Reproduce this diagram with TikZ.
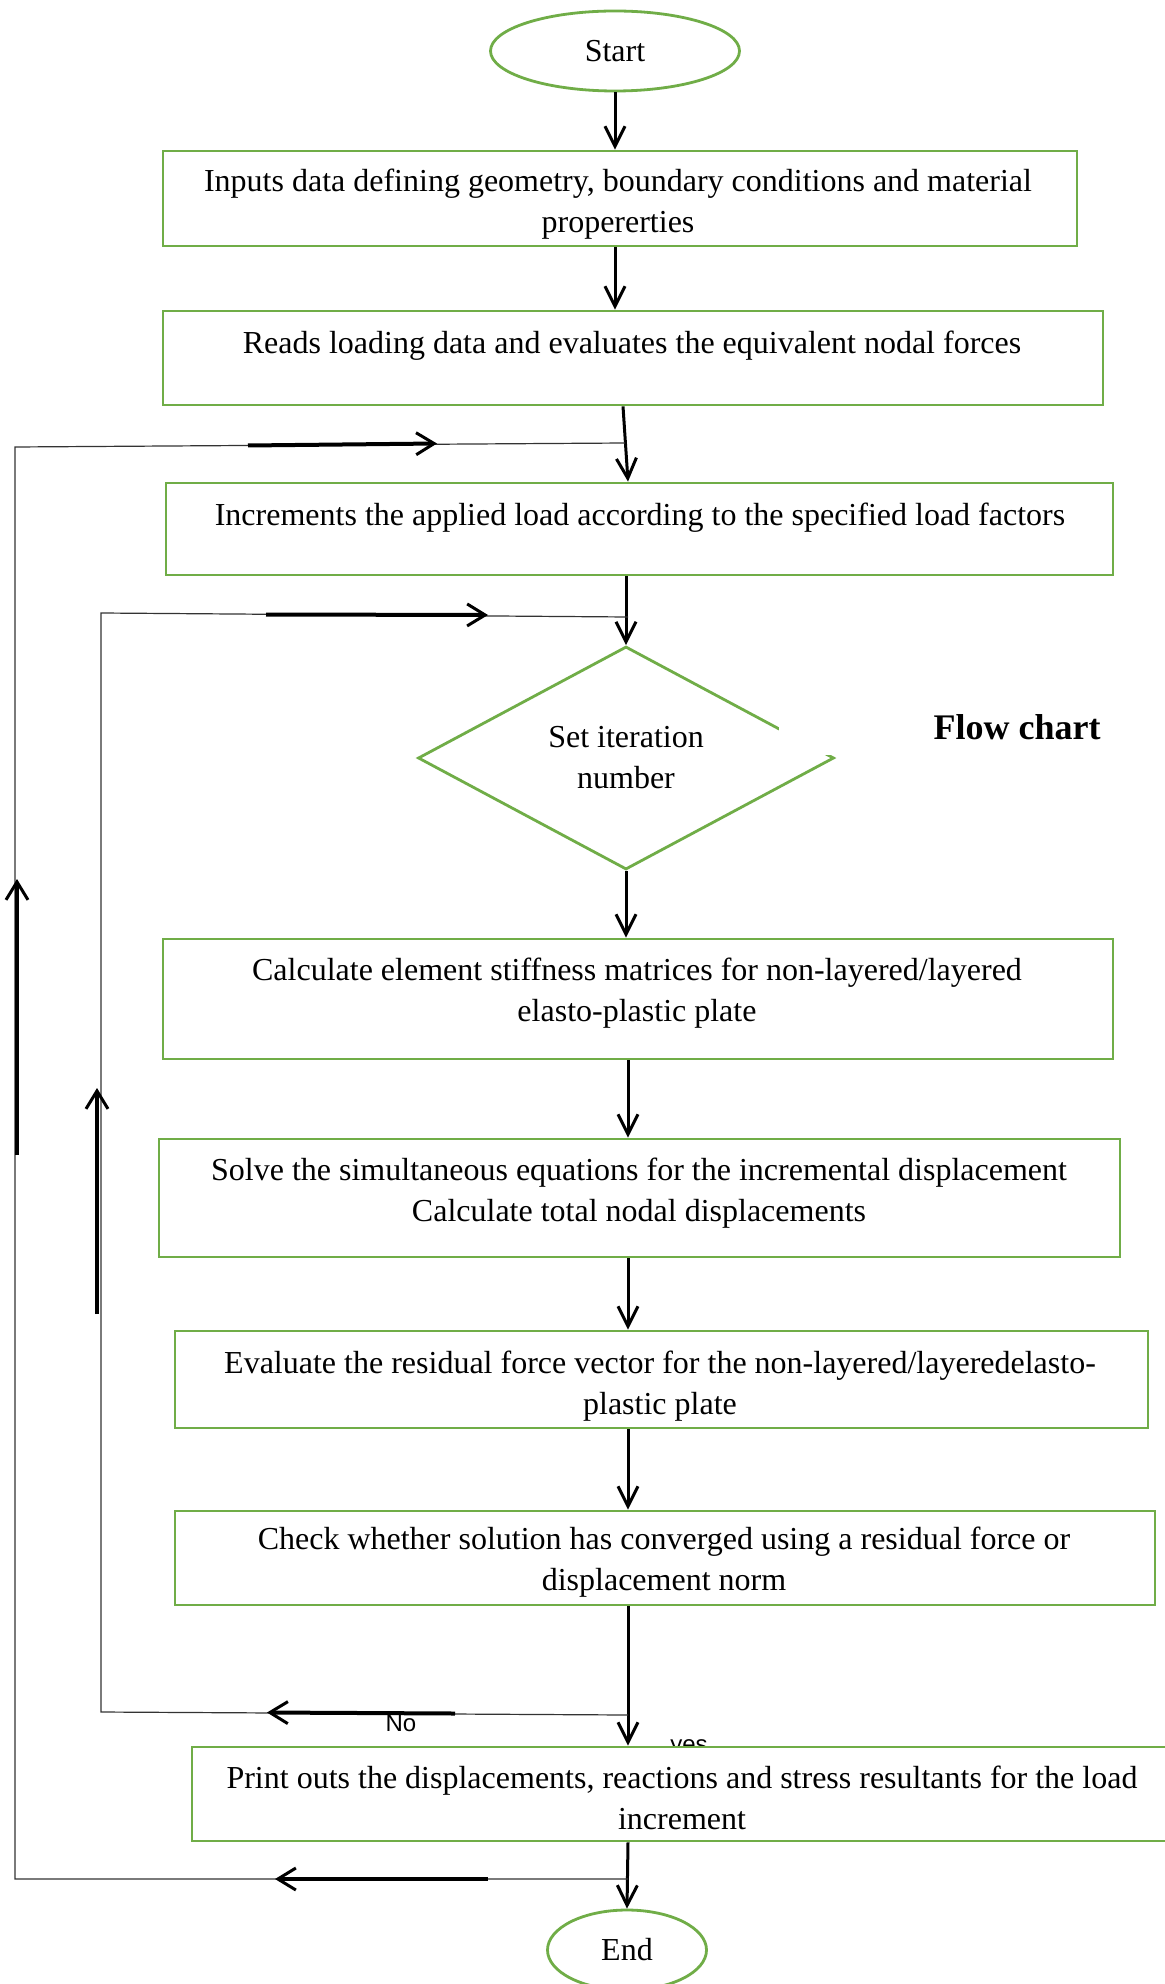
\documentclass[tikz,border=0pt]{standalone}
\usepackage{fontspec}
\setmainfont{Liberation Serif}
\newfontfamily\labsans{Liberation Sans}
\usetikzlibrary{shapes.geometric,arrows.meta}
\definecolor{grn}{RGB}{112,173,71}
\begin{document}
\begin{tikzpicture}[x=0.5pt,y=-0.5pt,
  box/.style={draw=grn, line width=1.4pt, fill=white, inner sep=0pt, rectangle},
  txt/.style={font=\fontsize{16}{20.5}\selectfont, align=center, inner sep=0pt, yshift=-1.25pt},
  flow/.style={line width=1.5pt, -{Straight Barb[length=10pt,width=10pt]}},
  loopline/.style={line width=0.6pt, black!80},
  loophead/.style={line width=2pt, -{Straight Barb[length=9pt,width=11pt,line width=1.5pt]}},
  lab/.style={font=\labsans\fontsize{12}{12}\selectfont, inner sep=0pt}]
\fill[white] (0,0) rectangle (1165,1984);
\useasboundingbox (0,0) rectangle (1165,1984);

% terminals
\node[box, ellipse, minimum width=124.5pt, minimum height=40pt, font=\fontsize{16}{20}\selectfont] (start) at (615,51) {\raisebox{-1.25pt}{Start}};
\node[box, ellipse, minimum width=79.5pt, minimum height=40pt, font=\fontsize{16}{20}\selectfont] (end) at (627,1950) {\raisebox{-1.25pt}{End}};

% process boxes
\node[box, minimum width=457pt, minimum height=47.5pt] (b1) at (620,198.5) {};
\node[txt] (t1) at (618,202) {Inputs data defining geometry, boundary conditions and material\\propererties};
\node[box, minimum width=470pt, minimum height=47pt] (b2) at (633,358) {};
\node[txt] (t2) at (632,343) {Reads loading data and evaluates the equivalent nodal forces};
\node[box, minimum width=473.5pt, minimum height=46pt] (b3) at (639.5,529) {};
\node[txt] (t3) at (640,515) {Increments the applied load according to the specified load factors};

\node[box, diamond, minimum width=208pt, minimum height=111.5pt] (dia) at (626,758) {};
\node[txt] (td) at (626,755) {Set iteration\\number};
\node[fill=white, inner sep=0pt, minimum width=193pt, minimum height=31.5pt] (fcb) at (972,723.5) {};
\node[font=\fontsize{18}{20}\selectfont\bfseries, inner sep=0pt] (fc) at (1017,727) {Flow chart};

\node[box, minimum width=475pt, minimum height=60pt] (b4) at (638,999) {};
\node[txt] (t4) at (637,991) {Calculate element stiffness matrices for non-layered/layered\\elasto-plastic plate};
\node[box, minimum width=480.5pt, minimum height=59pt] (b5) at (639.5,1198) {};
\node[txt] (t5) at (639,1191) {Solve the simultaneous equations for the incremental displacement\\Calculate total nodal displacements};
\node[box, minimum width=486.5pt, minimum height=48.5pt] (b6) at (661.5,1379.5) {};
\node[txt] (t6) at (660,1383.5) {Evaluate the residual force vector for the non-layered/layeredelasto-\\plastic plate};
\node[box, minimum width=490pt, minimum height=47pt] (b7) at (665,1558) {};
\node[txt] (t7) at (664,1560) {Check whether solution has converged using a residual force or\\displacement norm};

\node[lab, anchor=base] (yes) at (689,1752) {yes};
\node[box, minimum width=494pt, minimum height=47pt] (b8) at (686,1794) {};
\node[txt] (t8) at (682,1795.5) {Print outs the displacements, reactions and stress resultants for the load\\increment};

\node[lab] (no) at (401,1723) {No};

% axis coordinates
\coordinate (axA) at (623,0);
\coordinate (axB) at (628,0);

% main flow
\draw[flow] (start.south) -- (b1.north -| start.south);
\draw[flow] (b1.south -| start.south) -- (b2.north -| start.south);
\draw[flow] (b2.south -| axA) -- (b3.north -| axB);
\draw[flow] (b3.south -| dia.north) -- (dia.north);
\draw[flow] (dia.south) -- (b4.north -| dia.south);
\draw[flow] (b4.south -| axB) -- (b5.north -| axB);
\draw[flow] (b5.south -| axB) -- (b6.north -| axB);
\draw[flow] (b6.south -| axB) -- (b7.north -| axB);
\draw[flow] (b7.south -| axB) -- (b8.north -| axB);
\draw[flow] (b8.south -| axB) -- (end.north);

% outer loop
\coordinate (l1a) at (625,443);
\coordinate (l1b) at (15,447);
\coordinate (l1c) at (15,1879);
\coordinate (l1d) at (628,1879);
\draw[loopline] (l1d) -- (l1c) -- (l1b) -- (l1a);
\coordinate (h1s) at (248,445.5); \coordinate (h1e) at (437,443.5);
\draw[loophead] (h1s) -- (h1e);
\coordinate (h2s) at (17,1155); \coordinate (h2e) at (17,879);
\draw[loophead] (h2s) -- (h2e);
\coordinate (h3s) at (488,1879); \coordinate (h3e) at (275,1879);
\draw[loophead] (h3s) -- (h3e);

% inner loop
\coordinate (l2a) at (628,617);
\coordinate (l2b) at (101,613);
\coordinate (l2c) at (101,1712);
\coordinate (l2d) at (628,1715);
\draw[loopline] (l2d) -- (l2c) -- (l2b) -- (l2a);
\coordinate (h4s) at (266,614.5); \coordinate (h4e) at (488,615);
\draw[loophead] (h4s) -- (h4e);
\coordinate (h5s) at (97,1314); \coordinate (h5e) at (97,1088);
\draw[loophead] (h5s) -- (h5e);
\coordinate (h6s) at (455,1713.5); \coordinate (h6e) at (267,1712.5);
\draw[loophead] (h6s) -- (h6e);
\end{tikzpicture}
\end{document}
